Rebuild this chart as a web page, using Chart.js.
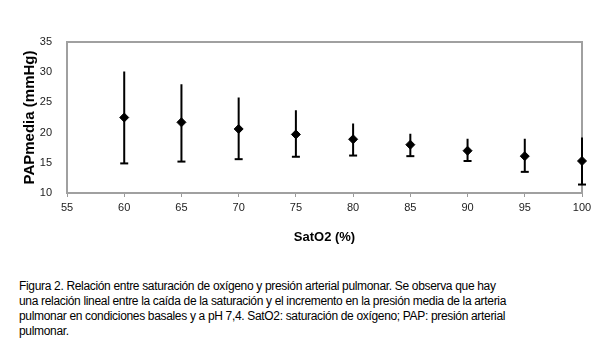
<!DOCTYPE html>
<html lang="es">
  <head>
    <meta charset="UTF-8" />
    <title>PAPmedia vs SatO2</title>
    <script src="https://cdn.jsdelivr.net/npm/chart.js"></script>
    <style>
      body { margin: 0; background: #fff; }
      #wrap { position: absolute; left: 0; top: 0; width: 604px; height: 260px; }
      #caption {
        position: absolute; left: 19px; top: 279px;
        font: 12px "Liberation Sans", Arial, sans-serif; line-height: 15px; color: #000;
        letter-spacing: -0.33px; white-space: nowrap;
      }
    </style>
  </head>
  <body>
    <div id="wrap"><canvas id="papChart"></canvas></div>
    <div id="caption">
      Figura 2. Relación entre saturación de oxígeno y presión arterial pulmonar. Se observa que hay<br />
      una relación lineal entre la caída de la saturación y el incremento en la presión media de la arteria<br />
      pulmonar en condiciones basales y a pH 7,4. SatO2: saturación de oxígeno; PAP: presión arterial<br />
      pulmonar.
    </div>

    <script>
      // valores
      const satO2 = [60, 65, 70, 75, 80, 85, 90, 95, 100];
      const papMedia = [22.5, 21.7, 20.6, 19.7, 18.9, 18.0, 17.0, 16.1, 15.3];
      const papAlto = [30.1, 28.0, 25.8, 23.7, 21.5, 19.8, 19.0, 19.0, 19.2];
      const papBajo = [14.9, 15.2, 15.6, 16.0, 16.2, 16.1, 15.3, 13.5, 11.4];

      // barras de error: bajo -> alto, con hueco entre cada una
      const barras = [];
      const radios = [];
      satO2.forEach((x, i) => {
        barras.push({ x: x, y: papBajo[i] }, { x: x, y: papAlto[i] }, { x: x, y: null });
        radios.push(4, 0, 0);
      });

      const marco = {
        id: "marco",
        beforeDatasetsDraw(chart) {
          const { ctx, chartArea: a } = chart;
          ctx.save();
          ctx.strokeStyle = "#a0a0a0";
          ctx.lineWidth = 2;
          ctx.strokeRect(a.left, a.top, a.right - a.left, a.bottom - a.top);
          ctx.restore();
        },
      };

      const ctx = document.getElementById("papChart").getContext("2d");
      new Chart(ctx, {
        type: "scatter",
        data: {
          datasets: [
            {
              data: barras,
              showLine: true,
              spanGaps: false,
              clip: false,
              borderColor: "#000",
              borderWidth: 2,
              pointStyle: "line",
              pointRadius: radios,
              pointBorderWidth: 2,
              pointBorderColor: "#000",
            },
            {
              data: satO2.map((x, i) => ({ x: x, y: papMedia[i] })),
              clip: false,
              pointStyle: "rectRot",
              pointRadius: 4.5,
              backgroundColor: "#000",
              borderColor: "#000",
            },
          ],
        },
        options: {
          responsive: true,
          maintainAspectRatio: false,
          animation: false,
          layout: { padding: { left: 0, top: 42, right: 22, bottom: 0 } },
          plugins: { legend: { display: false }, tooltip: { enabled: false } },
          scales: {
            x: {
              type: "linear",
              min: 55,
              max: 100,
              afterFit: (s) => { s.height = 67; },
              border: { display: false },
              grid: { drawOnChartArea: false, drawTicks: true, tickLength: 4, color: "#999" },
              ticks: { stepSize: 5, padding: 4, color: "#222", font: { family: "Liberation Sans", size: 11 } },
              title: {
                display: true,
                text: "SatO2 (%)",
                color: "#000",
                padding: { top: 0, bottom: 15 },
                font: { family: "Liberation Sans", size: 13, weight: "bold" },
              },
            },
            y: {
              min: 10,
              max: 35,
              afterFit: (s) => { s.width = 67; },
              border: { display: false },
              grid: { display: false },
              ticks: { stepSize: 5, padding: 7, color: "#222", font: { family: "Liberation Sans", size: 11 } },
              title: {
                display: true,
                text: "PAPmedia (mmHg)",
                color: "#000",
                padding: { top: 21, bottom: 0 },
                font: { family: "Liberation Sans", size: 15, weight: "bold" },
              },
            },
          },
        },
        plugins: [marco],
      });
    </script>
  </body>
</html>
